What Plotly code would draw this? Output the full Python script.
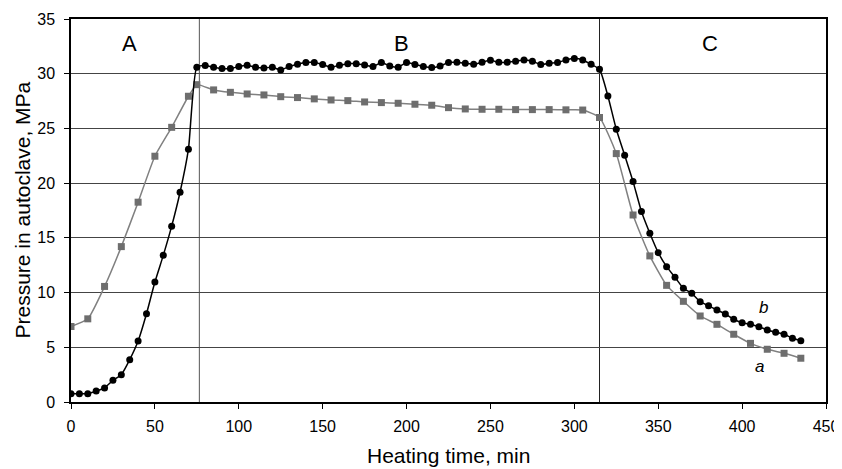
import plotly.graph_objects as go

# Curve b (black circles), every 5 min
time_b = [0, 5, 10, 15, 20, 25, 30, 35, 40, 45, 50, 55, 60, 65, 70,
          75, 80, 85, 90, 95, 100, 105, 110, 115, 120, 125, 130, 135, 140, 145,
          150, 155, 160, 165, 170, 175, 180, 185, 190, 195, 200, 205, 210, 215, 220,
          225, 230, 235, 240, 245, 250, 255, 260, 265, 270, 275, 280, 285, 290, 295,
          300, 305, 310, 315, 320, 325, 330, 335, 340, 345, 350, 355, 360, 365, 370,
          375, 380, 385, 390, 395, 400, 405, 410, 415, 420, 425, 430, 435]
pressure_b = [0.76, 0.76, 0.76, 1.0, 1.28, 1.98, 2.5, 3.87, 5.57, 8.06, 10.96, 13.4, 16.07, 19.17, 23.1,
              30.6, 30.74, 30.59, 30.47, 30.47, 30.65, 30.77, 30.59, 30.53, 30.59, 30.35, 30.65, 30.86, 31.02, 31.02,
              30.84, 30.59, 30.77, 30.92, 30.92, 30.8, 30.65, 31.02, 30.71, 30.59, 31.02, 30.84, 30.65, 30.56, 30.71,
              31.02, 31.05, 30.95, 30.86, 31.04, 31.22, 31.04, 31.05, 31.14, 31.26, 31.14, 30.84, 30.96, 31.02, 31.26,
              31.38, 31.26, 30.86, 30.41, 27.97, 24.93, 22.55, 20.14, 17.4, 15.42, 13.65, 12.37, 11.4, 10.39, 9.93,
              9.17, 8.8, 8.41, 8.04, 7.56, 7.25, 7.1, 6.88, 6.58, 6.37, 6.19, 5.82, 5.6]

# Curve a (grey squares)
time_a = [0, 10, 20, 30, 40, 50, 60, 70, 75, 85, 95, 105, 115, 125, 135, 145, 155, 165, 175, 185,
          195, 205, 215, 225, 235, 245, 255, 265, 275, 285, 295, 305, 315, 325, 335, 345, 355, 365,
          375, 385, 395, 405, 415, 425, 435]
pressure_a = [6.9, 7.6, 10.56, 14.2, 18.26, 22.46, 25.1, 27.94, 29.0, 28.52, 28.3, 28.15, 28.06, 27.9,
              27.82, 27.7, 27.6, 27.54, 27.42, 27.36, 27.3, 27.21, 27.12, 26.9, 26.78, 26.75, 26.75,
              26.72, 26.72, 26.72, 26.7, 26.68, 26.0, 22.7, 17.09, 13.35, 10.66, 9.2, 7.86, 7.1, 6.19,
              5.36, 4.82, 4.45, 4.0]

phase_bounds = [76.5, 315]
phase_labels = ["A", "B", "C"]
phase_label_x = [35, 197, 381]
phase_label_y = 32.8
curve_labels = ["a", "b"]
curve_label_x = [410.5, 412.5]
curve_label_y = [3.2, 8.6]

x_ticks = [0, 50, 100, 150, 200, 250, 300, 350, 400, 450]
y_ticks = [0, 5, 10, 15, 20, 25, 30, 35]

FONT = "Arial, 'Liberation Sans', sans-serif"

fig = go.Figure()
fig.add_trace(go.Scatter(
    x=time_a, y=pressure_a, mode="lines+markers",
    line=dict(color="#808080", width=1.5, shape="spline", smoothing=0.5),
    marker=dict(symbol="square", size=7, color="#6e6e6e"),
    showlegend=False, hoverinfo="x+y"))
fig.add_trace(go.Scatter(
    x=time_b, y=pressure_b, mode="lines+markers",
    line=dict(color="#000000", width=1.5, shape="spline", smoothing=0.5),
    marker=dict(symbol="circle", size=7, color="#000000"),
    showlegend=False, hoverinfo="x+y"))

for i, xb in enumerate(phase_bounds):
    fig.add_shape(type="line", xref="x", yref="paper", x0=xb, x1=xb, y0=0, y1=1,
                  line=dict(color="#555555" if i == 0 else "#222222", width=1), layer="below")

for lab, lx in zip(phase_labels, phase_label_x):
    fig.add_annotation(x=lx, y=phase_label_y, text=lab, showarrow=False,
                       font=dict(family=FONT, size=22, color="#000"))
for lab, lx, ly in zip(curve_labels, curve_label_x, curve_label_y):
    fig.add_annotation(x=lx, y=ly, text="<i>" + lab + "</i>", showarrow=False,
                       font=dict(family=FONT, size=17, color="#000"))

# axis titles as annotations for exact placement
fig.add_annotation(xref="paper", yref="paper", x=0.5, y=0, yanchor="middle", yshift=-53,
                   text="Heating time, min", showarrow=False,
                   font=dict(family=FONT, size=21, color="#000"))
fig.add_annotation(xref="paper", yref="paper", x=0, y=0.5, xanchor="center", xshift=-49,
                   textangle=-90, text="Pressure in autoclave, MPa", showarrow=False,
                   font=dict(family=FONT, size=21, color="#000"))

# page body has an 8px margin, so the figure is sized/offset to compensate
fig.update_layout(
    width=834, height=461,
    margin=dict(l=63, r=16, t=11, b=67),
    paper_bgcolor="white", plot_bgcolor="white",
    font=dict(family=FONT, size=16, color="#000"),
)
fig.update_xaxes(
    range=[0, 450], tickvals=x_ticks, ticks="outside", ticklen=5, tickcolor="#000",
    showgrid=False, zeroline=False, showline=True, linecolor="#000", linewidth=1.5, mirror=True,
    automargin=False, ticklabelstandoff=4, tickfont=dict(size=16))
fig.update_yaxes(
    range=[0, 35], tickvals=y_ticks, ticks="outside", ticklen=5, tickcolor="#000",
    showgrid=True, gridcolor="#444444", gridwidth=1, zeroline=False,
    showline=True, linecolor="#000", linewidth=1.5, mirror=True,
    automargin=False, ticklabelstandoff=6, tickfont=dict(size=16))

fig.write_html("out.html")
